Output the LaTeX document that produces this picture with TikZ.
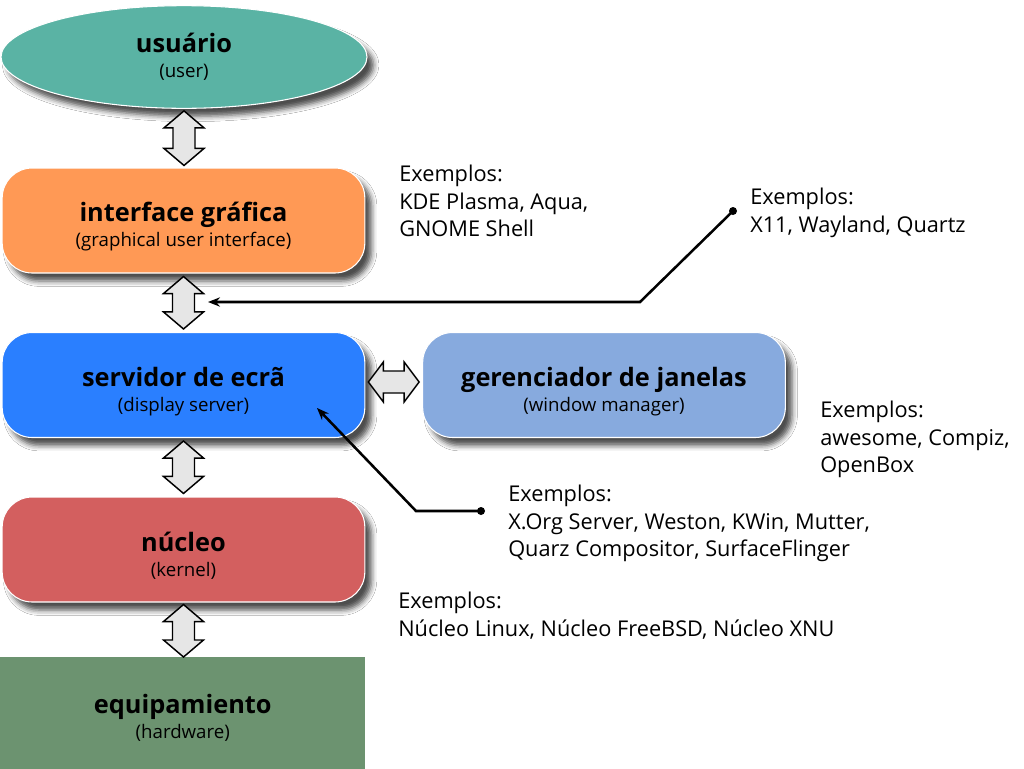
\documentclass[tikz,border=0pt]{standalone}
\usepackage{fontspec}
\setmainfont{Open Sans}
\usetikzlibrary{shapes.geometric,shadows.blur,calc,arrows.meta}
\definecolor{cuser}{HTML}{5AB3A4}
\definecolor{cgui}{HTML}{FF9955}
\definecolor{csrv}{HTML}{2A7FFF}
\definecolor{cwm}{HTML}{87AADE}
\definecolor{cker}{HTML}{D35F5F}
\definecolor{chw}{HTML}{6C9370}
\definecolor{carr}{HTML}{E6E6E6}
\newcommand\ttl[1]{{\bfseries\fontsize{19pt}{21pt}\selectfont #1}}
\tikzset{
  shd/.style={blur shadow={shadow xshift=5pt, shadow yshift=-6pt, shadow blur radius=4pt, shadow opacity=70}},
  layer/.style={draw=white, line width=0.8pt, rounded corners=22.5pt, minimum width=272pt, minimum height=78.75pt, inner sep=0pt, shd},
  lbl/.style={align=center, inner sep=0pt, font=\fontsize{14pt}{18.75pt}\selectfont},
  ex/.style={anchor=north west, align=left, inner sep=0pt, font=\fontsize{16.3pt}{20.6pt}\selectfont},
  dblarrow/.style={draw=black, fill=carr, line width=1.1pt, line join=miter},
  conn/.style={draw=black, line width=1.9pt, -{Stealth[length=9pt,width=7pt]}},
  dot/.style={circle, fill=black, inner sep=0pt, minimum size=6pt},
}
\newcommand\vdbl[2]{%
  \path[dblarrow] let \p1=(#1), \p2=(#2) in
    (\x1,\y1) -- (\x1+15pt,\y1-12.75pt) -- (\x1+8.25pt,\y1-12.75pt) --
    (\x1+8.25pt,\y2+12.75pt) -- (\x1+15pt,\y2+12.75pt) -- (\x1,\y2) --
    (\x1-15pt,\y2+12.75pt) -- (\x1-8.25pt,\y2+12.75pt) --
    (\x1-8.25pt,\y1-12.75pt) -- (\x1-15pt,\y1-12.75pt) -- cycle;}
\newcommand\hdbl[2]{%
  \path[dblarrow] let \p1=(#1), \p2=(#2) in
    (\x1,\y1) -- (\x1+11.25pt,\y1+15pt) -- (\x1+11.25pt,\y1+8.25pt) --
    (\x2-11.25pt,\y1+8.25pt) -- (\x2-11.25pt,\y1+15pt) -- (\x2,\y1) --
    (\x2-11.25pt,\y1-15pt) -- (\x2-11.25pt,\y1-8.25pt) --
    (\x1+11.25pt,\y1-8.25pt) -- (\x1+11.25pt,\y1-15pt) -- cycle;}
\begin{document}
\begin{tikzpicture}[x=0.75pt,y=-0.75pt]
\useasboundingbox[fill=white] (0,0) rectangle (1024,768);

% layers
\node[ellipse, fill=cuser, draw=white, line width=0.8pt, minimum width=274.5pt, minimum height=77pt, inner sep=0pt, shd,
  label={[lbl, yshift=0.5pt]center:{\ttl{usuário}\\(user)}}] (user) at (184,57) {};
\node[layer, fill=cgui,
  label={[lbl, yshift=-4.6pt]center:{\ttl{interface gráfica}\\(graphical user interface)}}] (gui) at (183.5,220.5) {};
\node[layer, fill=csrv,
  label={[lbl, yshift=-4.6pt]center:{\ttl{servidor de ecrã}\\(display server)}}] (srv) at (183.5,385) {};
\node[layer, fill=cwm,
  label={[lbl, yshift=-4.6pt]center:{\ttl{gerenciador de janelas}\\(window manager)}}] (wm) at (604,385) {};
\node[layer, fill=cker,
  label={[lbl, yshift=-4.6pt]center:{\ttl{núcleo}\\(kernel)}}] (ker) at (183.5,549.5) {};
\node[fill=chw, draw=none, minimum width=273.75pt, minimum height=90pt, inner sep=0pt, anchor=north west,
  label={[lbl, yshift=-0.5pt]center:{\ttl{equipamiento}\\(hardware)}}] (hw) at (0,657) {};

% double arrows
\vdbl{$(user.south)+(0,2)$}{$(gui.north)+(0,-2)$}
\vdbl{$(gui.south)+(0,3)$}{$(srv.north)+(0,-3)$}
\vdbl{$(srv.south)+(0,3)$}{$(ker.north)+(0,-3)$}
\vdbl{$(ker.south)+(0,2)$}{$(hw.north)+(0,0)$}
\hdbl{$(srv.east)+(3,-3)$}{$(wm.west)+(-3,-3)$}

% examples
\node[ex] (exgui) at (399,165) {Exemplos:\\KDE Plasma, Aqua,\\GNOME Shell};
\node[ex] (exproto) at (750,188) {Exemplos:\\X11, Wayland, Quartz};
\node[ex] (exwm) at (820,401) {Exemplos:\\awesome, Compiz,\\OpenBox};
\node[ex] (exsrv) at (508,485) {Exemplos:\\X.Org Server, Weston, KWin, Mutter,\\Quarz Compositor, SurfaceFlinger};
\node[ex] (exker) at (398,592) {Exemplos:\\Núcleo Linux, Núcleo FreeBSD, Núcleo XNU};

% connectors
\node[dot] (d1) at (733,211) {};
\coordinate (t1) at (208,302);
\draw[conn] (d1.center) -- (640,302) -- (t1);
\node[dot] (d2) at (481,511) {};
\coordinate (t2) at (317,408);
\draw[conn] (d2.center) -- (416,511) -- (t2);
\end{tikzpicture}
\end{document}
